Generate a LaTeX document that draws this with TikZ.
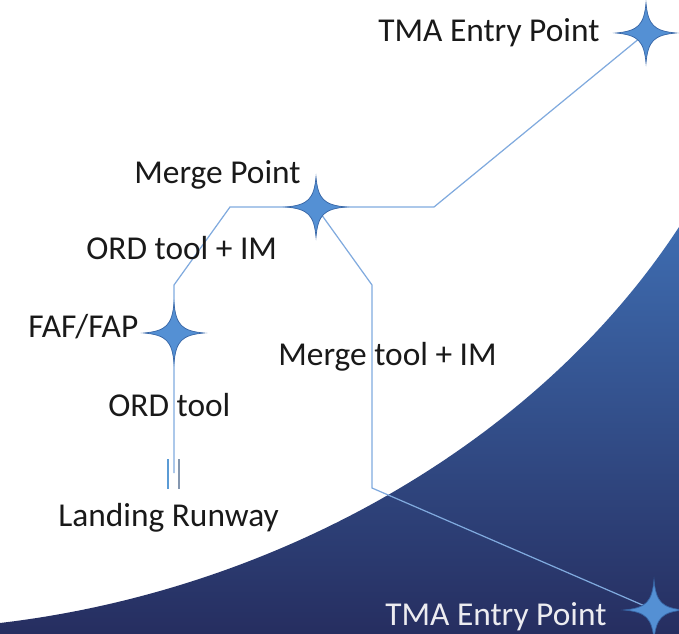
\documentclass[tikz,border=0pt]{standalone}
\usepackage{fontspec}
\setmainfont{Carlito}
\usepackage{tikz}
\usepackage{xcolor}
\tikzset{>=latex}

\definecolor{routeblue}{RGB}{128,170,222}
\definecolor{starblue}{RGB}{84,144,212}
\definecolor{staredge}{RGB}{56,102,166}
\definecolor{navytop}{RGB}{62,108,176}
\definecolor{navymid}{RGB}{45,64,124}
\definecolor{navybot}{RGB}{38,46,96}
\definecolor{rwyleft}{RGB}{91,155,213}
\definecolor{rwyright}{RGB}{132,151,176}

\tikzset{
  route/.style={draw=routeblue, line width=0.7pt},
  wplabel/.style={font=\fontsize{19}{23}\selectfont, text=black!90, inner sep=0pt, anchor=west},
}
% four-point waypoint star, size in px
\newcommand{\wpstar}[1]{%
  \begin{scope}[shift={(#1)}]
    \fill[starblue, draw=staredge, line width=0.4pt]
      (0,-30) .. controls (2,-8) and (8,-2) .. (30,0)
      .. controls (8,2) and (2,8) .. (0,30)
      .. controls (-2,8) and (-8,2) .. (-30,0)
      .. controls (-8,-2) and (-2,-8) .. (0,-30) -- cycle;
  \end{scope}}

\begin{document}
\begin{tikzpicture}[x=0.02cm, y=-0.02cm]
  \useasboundingbox (0,0) rectangle (679,634);
  \shade[top color=navytop, middle color=navymid, bottom color=navybot]
    (0,623) .. controls (280,590) and (540,440) .. (679,227)
    -- (679,634) -- (0,634) -- cycle;

  % waypoints and bends
  \coordinate (tmaN) at (646,33);
  \coordinate (tmaS) at (654,610);
  \coordinate (merge) at (316,207);
  \coordinate (faf) at (174,333);
  \coordinate (rwyend) at (174,473);
  \coordinate (ordbend) at (174,285);
  \coordinate (ordtop) at (230,207);
  \coordinate (northbend) at (434,207);
  \coordinate (mtbend) at (372,285);
  \coordinate (mtlow) at (372,488);

  \draw[route] (rwyend) -- (faf) -- (ordbend) -- (ordtop) -- (merge)
    -- (northbend) -- (tmaN);
  \draw[route] (merge) -- (mtbend) -- (mtlow) -- (tmaS);

  % runway
  \draw[rwyleft, line width=1pt] (168,459) -- (168,489);
  \draw[rwyright, line width=1pt] (179,459) -- (179,489);

  \wpstar{tmaN}
  \wpstar{tmaS}
  \wpstar{merge}
  \wpstar{faf}

  \node[wplabel] (tmaNlbl) at (378,33) {TMA Entry Point};
  \node[wplabel] (mergelbl) at (134,175) {Merge Point};
  \node[wplabel] (ordimlbl) at (86,248) {ORD tool + IM};
  \node[wplabel] (faflbl) at (28,327) {FAF/FAP};
  \node[wplabel] (mtimlbl) at (278,357) {Merge tool + IM};
  \node[wplabel] (ordlbl) at (108,405) {ORD tool};
  \node[wplabel] (rwylbl) at (58,518) {Landing Runway};
  \node[wplabel, text={rgb,255:red,236;green,236;blue,240}] (tmaSlbl) at (385,617) {TMA Entry Point};
\end{tikzpicture}
\end{document}
